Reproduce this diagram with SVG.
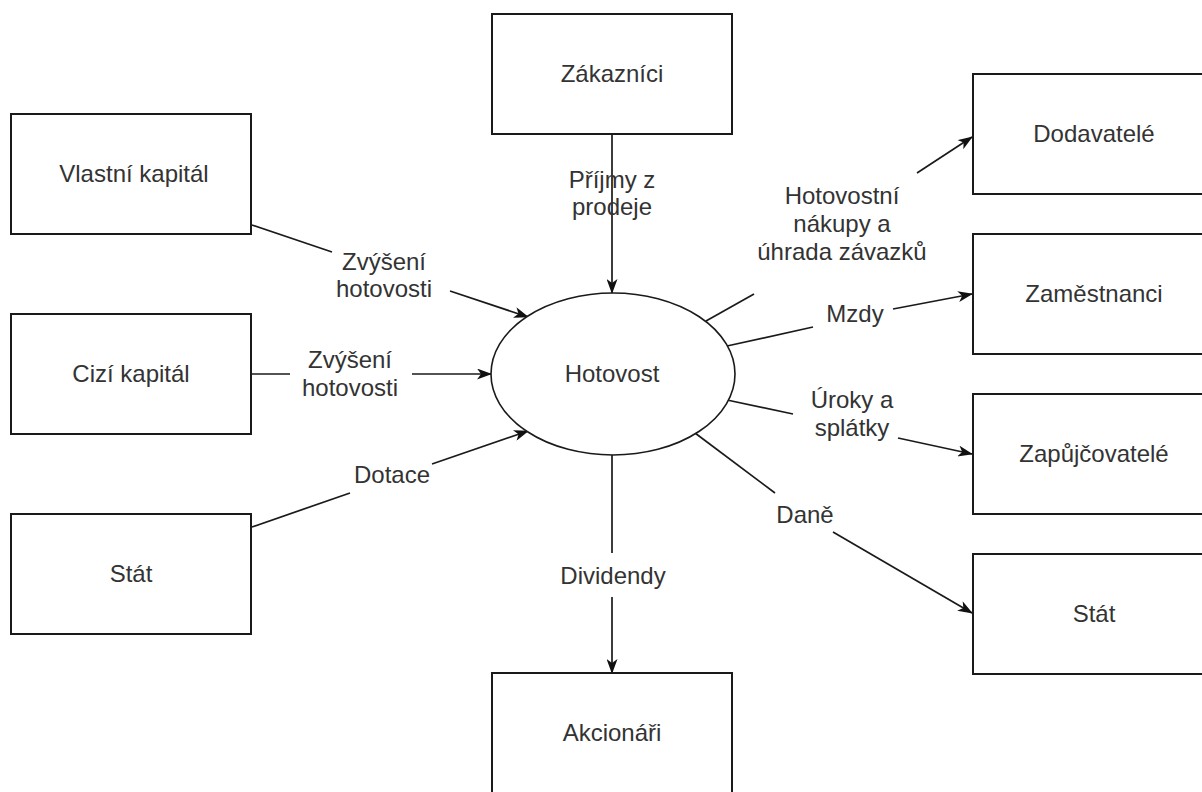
<svg xmlns="http://www.w3.org/2000/svg" width="1202" height="792" viewBox="0 0 1202 792">
  <defs>
    <marker id="arrow" viewBox="0 0 15 11" refX="14" refY="5.5" markerWidth="15" markerHeight="11" markerUnits="userSpaceOnUse" orient="auto">
      <path d="M0,0 L15,5.5 L0,11 L4,5.5 Z" fill="#111"/>
    </marker>
    <style>
      .box { fill: #fff; stroke: #1a1a1a; stroke-width: 2; }
      .ell { fill: #fff; stroke: #1a1a1a; stroke-width: 1.6; }
      .edge { fill: none; stroke: #1a1a1a; stroke-width: 1.7; }
      text { font-family: "Liberation Sans", Arial, sans-serif; font-size: 24px; fill: #333; text-anchor: middle; }
    </style>
  </defs>
  <rect width="1202" height="792" fill="#fff"/>

  <!-- connectors -->
  <g id="connectors">
    <!-- Zákazníci -> Hotovost -->
    <g id="e-prijmy">
      <line class="edge" x1="612" y1="134" x2="612" y2="293" marker-end="url(#arrow)"/>
      <text x="612" y="188">Příjmy z</text>
      <text x="612" y="215">prodeje</text>
    </g>
    <!-- Vlastní kapitál -> Hotovost -->
    <g id="e-vlastni">
      <line class="edge" x1="252" y1="225" x2="332" y2="252"/>
      <line class="edge" x1="450" y1="291" x2="528" y2="317" marker-end="url(#arrow)"/>
      <text x="384" y="270">Zvýšení</text>
      <text x="384" y="297">hotovosti</text>
    </g>
    <!-- Cizí kapitál -> Hotovost -->
    <g id="e-cizi">
      <line class="edge" x1="252" y1="374" x2="290" y2="374"/>
      <line class="edge" x1="412" y1="374" x2="491" y2="374" marker-end="url(#arrow)"/>
      <text x="350" y="368">Zvýšení</text>
      <text x="350" y="396">hotovosti</text>
    </g>
    <!-- Stát -> Hotovost -->
    <g id="e-dotace">
      <line class="edge" x1="252" y1="527" x2="350" y2="493"/>
      <line class="edge" x1="432" y1="464" x2="528" y2="431" marker-end="url(#arrow)"/>
      <text x="392" y="483">Dotace</text>
    </g>
    <!-- Hotovost -> Akcionáři -->
    <g id="e-dividendy">
      <line class="edge" x1="612" y1="455" x2="612" y2="553"/>
      <line class="edge" x1="612" y1="597" x2="612" y2="673" marker-end="url(#arrow)"/>
      <text x="613" y="584">Dividendy</text>
    </g>
    <!-- Hotovost -> Dodavatelé -->
    <g id="e-nakupy">
      <line class="edge" x1="706" y1="321" x2="754" y2="294"/>
      <line class="edge" x1="917" y1="173" x2="972" y2="137" marker-end="url(#arrow)"/>
      <text x="842" y="204">Hotovostní</text>
      <text x="842" y="232">nákupy a</text>
      <text x="842" y="260">úhrada závazků</text>
    </g>
    <!-- Hotovost -> Zaměstnanci -->
    <g id="e-mzdy">
      <line class="edge" x1="727" y1="346" x2="813" y2="327"/>
      <line class="edge" x1="893" y1="309" x2="972" y2="294" marker-end="url(#arrow)"/>
      <text x="855" y="322">Mzdy</text>
    </g>
    <!-- Hotovost -> Zapůjčovatelé -->
    <g id="e-uroky">
      <line class="edge" x1="727" y1="400" x2="793" y2="414"/>
      <line class="edge" x1="898" y1="438" x2="972" y2="454" marker-end="url(#arrow)"/>
      <text x="852" y="408">Úroky a</text>
      <text x="852" y="436">splátky</text>
    </g>
    <!-- Hotovost -> Stát -->
    <g id="e-dane">
      <line class="edge" x1="695" y1="433" x2="775" y2="493"/>
      <line class="edge" x1="833" y1="532" x2="972" y2="613" marker-end="url(#arrow)"/>
      <text x="805" y="523">Daně</text>
    </g>
  </g>

  <!-- nodes -->
  <g id="n-zakaznici">
    <rect class="box" x="492" y="14" width="240" height="120"/>
    <text x="612" y="82">Zákazníci</text>
  </g>
  <g id="n-vlastni">
    <rect class="box" x="11" y="114" width="240" height="120"/>
    <text x="134" y="182">Vlastní kapitál</text>
  </g>
  <g id="n-cizi">
    <rect class="box" x="11" y="314" width="240" height="120"/>
    <text x="131" y="382">Cizí kapitál</text>
  </g>
  <g id="n-stat-l">
    <rect class="box" x="11" y="514" width="240" height="120"/>
    <text x="131" y="582">Stát</text>
  </g>
  <g id="n-hotovost">
    <ellipse class="ell" cx="613" cy="374" rx="122" ry="81"/>
    <text x="612" y="382">Hotovost</text>
  </g>
  <g id="n-akcionari">
    <rect class="box" x="492" y="673" width="240" height="120"/>
    <text x="612" y="741">Akcionáři</text>
  </g>
  <g id="n-dodavatele">
    <rect class="box" x="973" y="74" width="240" height="120"/>
    <text x="1094" y="142">Dodavatelé</text>
  </g>
  <g id="n-zamestnanci">
    <rect class="box" x="973" y="234" width="240" height="120"/>
    <text x="1094" y="302">Zaměstnanci</text>
  </g>
  <g id="n-zapujcovatele">
    <rect class="box" x="973" y="394" width="240" height="120"/>
    <text x="1094" y="462">Zapůjčovatelé</text>
  </g>
  <g id="n-stat-r">
    <rect class="box" x="973" y="554" width="240" height="120"/>
    <text x="1094" y="622">Stát</text>
  </g>
</svg>
